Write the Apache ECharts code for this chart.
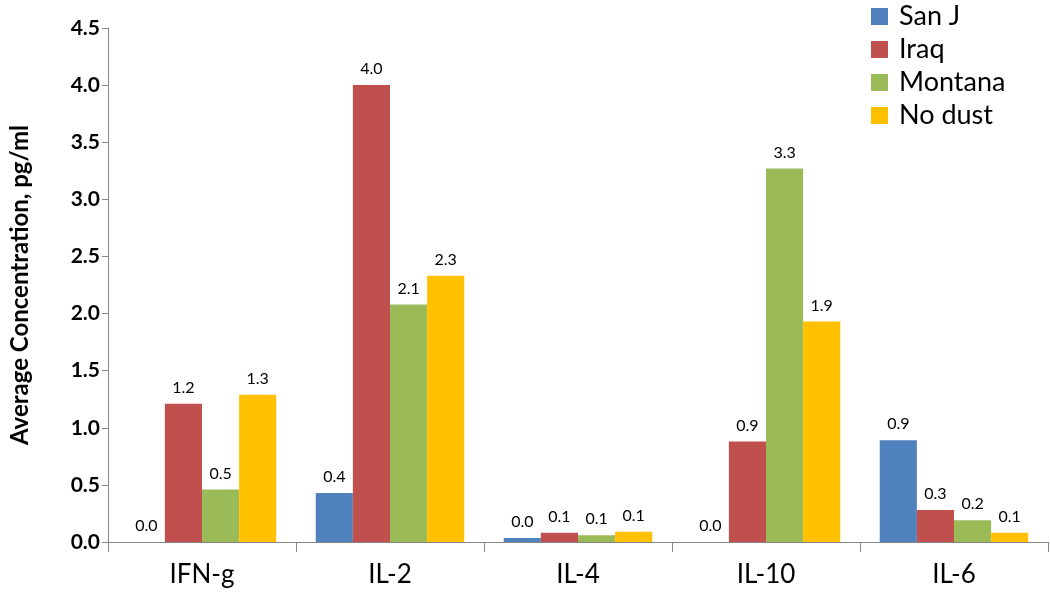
<!DOCTYPE html>
<html>
<head>
<meta charset="utf-8">
<script src="https://cdn.jsdelivr.net/npm/echarts@6/dist/echarts.min.js"></script>
<style>
  html, body { margin: 0; padding: 0; background: #fff; }
  #chart { width: 1050px; height: 597px; }
</style>
</head>
<body>
<div id="chart"></div>
<script>
var categories = ['IFN-g', 'IL-2', 'IL-4', 'IL-10', 'IL-6'];
var seriesNames = ['San J', 'Iraq', 'Montana', 'No dust'];
var sanJ = [0.0, 0.43, 0.035, 0.0, 0.89];
var iraq = [1.21, 4.0, 0.08, 0.88, 0.28];
var montana = [0.46, 2.08, 0.06, 3.27, 0.19];
var noDust = [1.29, 2.33, 0.09, 1.93, 0.08];
var colors = ['#4F81BD', '#C0504D', '#9BBB59', '#FFC000'];

var font = 'Lato, "Open Sans", sans-serif';
var myChart = echarts.init(document.getElementById('chart'));

function makeSeries(name, data, i) {
    return {
        name: name,
        type: 'bar',
        data: data,
        barGap: '0%',
        barCategoryGap: '21%',
        itemStyle: { color: colors[i] },
        label: {
            show: true,
            position: 'top',
            distance: 8,
            fontFamily: font,
            fontSize: 16,
            color: '#000',
            formatter: function (p) { return p.value.toFixed(1); }
        }
    };
}

var option = {
    animation: false,
    textStyle: { fontFamily: font },
    grid: { left: 108, right: 2, top: 28, bottom: 55, outerBoundsMode: 'none' },
    legend: {
        orient: 'vertical',
        left: 866,
        top: -2,
        itemWidth: 17,
        itemHeight: 17,
        itemGap: 6,
        icon: 'rect',
        textStyle: { fontFamily: font, fontSize: 27, color: '#000', padding: [0, 0, 0, 6] },
        data: seriesNames
    },
    xAxis: {
        type: 'category',
        data: categories,
        axisLine: { lineStyle: { color: '#868686' } },
        axisTick: { show: true, length: 10, lineStyle: { color: '#868686' } },
        axisLabel: { fontFamily: font, fontSize: 26, color: '#000', margin: 20 }
    },
    yAxis: {
        type: 'value',
        min: 0,
        max: 4.5,
        interval: 0.5,
        name: 'Average Concentration, pg/ml',
        nameLocation: 'middle',
        nameGap: 76,
        nameTextStyle: { fontFamily: font, fontSize: 24, fontWeight: 'bold', color: '#000' },
        axisLine: { show: true, lineStyle: { color: '#868686' } },
        axisTick: { show: true, length: 6, inside: false, lineStyle: { color: '#868686' } },
        splitLine: { show: false },
        axisLabel: {
            fontFamily: font, fontSize: 21, fontWeight: 'bold', color: '#000', margin: 8,
            formatter: function (v) { return v.toFixed(1); }
        }
    },
    series: [
        makeSeries(seriesNames[0], sanJ, 0),
        makeSeries(seriesNames[1], iraq, 1),
        makeSeries(seriesNames[2], montana, 2),
        makeSeries(seriesNames[3], noDust, 3)
    ]
};

option && myChart.setOption(option);
</script>
</body>
</html>
